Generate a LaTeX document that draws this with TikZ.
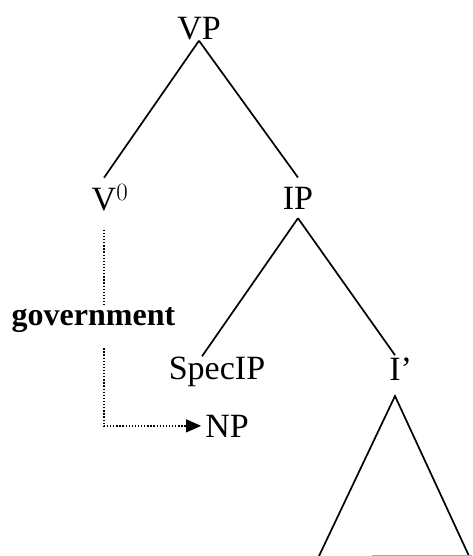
\documentclass[tikz,border=0pt]{standalone}
\usepackage{fontspec}
\setmainfont{Liberation Serif}
\usetikzlibrary{arrows.meta}

\begin{document}
\begin{tikzpicture}[x=1pt, y=-1pt, inner sep=0pt,
    every node/.style={font=\fontsize{34}{40}\selectfont, anchor=base},
    branch/.style={line width=1.7pt},
    govline/.style={line width=1.3pt, dash pattern=on 1.3pt off 1.8pt}]
    \useasboundingbox (0, 0) rectangle (472, 556);

    \node (VP) at (199, 40) {VP};
    \node (V0) at (104, 210) {V\rlap{$^0$}};
    \node (IP) at (298, 209) {IP};
    \node (SpecIP) at (217, 379) {SpecIP};
    \node (Ibar) at (395, 380) {I\rlap{’}};
    \node (NP) at (227, 437) {NP};
    \node[font=\fontsize{32}{38}\selectfont\bfseries] (gov) at (93.5, 325) {government};

    \draw[branch] (VP.south) -- ([yshift=7pt]V0.north);
    \draw[branch] (VP.south) -- ([yshift=9pt]IP.north);
    \draw[branch] ([yshift=-9pt]IP.south) -- ([xshift=-15pt]SpecIP.north);
    \draw[branch] ([yshift=-9pt]IP.south) -- ([yshift=2pt]Ibar.north);

    % the triangle under I' runs off the bottom edge
    \coordinate (apex) at ([yshift=-16pt]Ibar.base);
    \draw[branch] (apex) ++(-76, 160) -- (apex) -- ++(74, 160);
    \draw[gray!70, line width=0.8pt] (372, 555) -- (472, 555);

    \draw[govline] ([yshift=-19pt]V0.south) -- (V0.south |- gov.north);
    \draw[govline, -{Triangle[length=15pt, width=13pt]}]
        ([yshift=-16pt]gov.south -| V0.south) |- ([xshift=-4pt]NP.west);
\end{tikzpicture}
\end{document}
